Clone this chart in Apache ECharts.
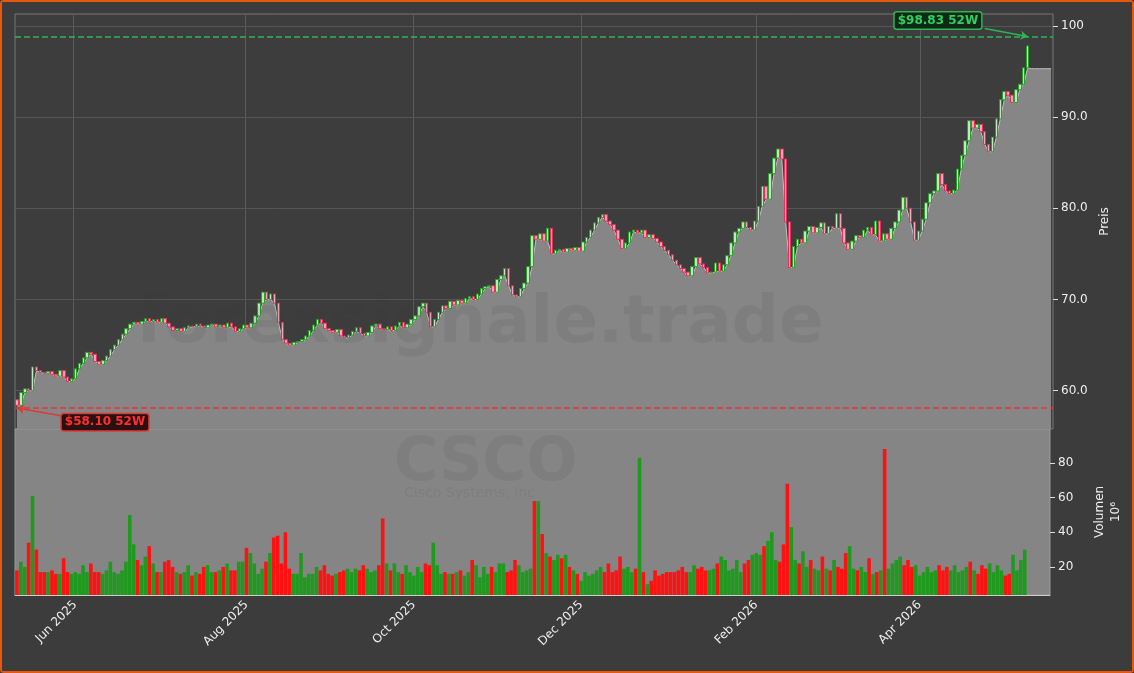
<!DOCTYPE html>
<html>
<head>
<meta charset="utf-8">
<script src="https://cdn.jsdelivr.net/npm/echarts@6/dist/echarts.min.js"></script>
<style>
html,body{margin:0;padding:0;background:#3c3c3c;}
#main{width:1130px;height:669px;border:2px solid #e8580c;border-radius:4px;}
</style>
</head>
<body>
<div id="main"></div>
<script>
// daily closes (trading days from 12 May 2025)
var closes = [
58.4,59.8,60.2,60.0,62.6,62.2,62.0,61.9,62.1,61.8,
61.6,62.2,61.5,61.0,61.3,62.4,63.0,63.6,64.2,64.0,
63.2,62.9,63.3,63.8,64.5,65.0,65.6,66.2,66.8,67.3,
67.5,67.3,67.6,67.9,67.6,67.8,67.5,67.9,67.4,67.0,
66.6,66.8,66.5,66.9,67.1,67.0,67.3,67.1,66.9,67.2,
67.3,67.0,67.2,66.9,67.4,67.0,66.5,66.8,67.2,66.9,
67.4,68.2,69.6,70.8,70.0,70.6,69.6,67.5,65.6,65.2,
65.0,65.3,65.4,65.6,66.0,66.6,67.2,67.8,67.4,66.8,
66.6,66.4,66.7,66.0,65.8,66.1,66.5,66.9,66.3,66.0,
66.4,67.1,67.3,66.8,66.7,67.0,66.6,67.1,67.5,66.9,
67.3,67.8,68.2,69.2,69.6,68.6,67.0,67.8,68.6,69.3,
69.0,69.8,69.4,69.9,69.6,70.1,70.3,70.0,70.6,71.2,
71.4,71.5,70.8,72.2,72.6,73.4,71.5,70.5,70.3,71.2,
71.8,73.6,77.0,76.6,77.2,76.4,77.8,75.0,75.4,75.5,
75.2,75.6,75.4,75.7,75.3,76.3,76.8,77.6,78.4,79.0,
79.3,78.6,78.2,77.6,76.6,75.6,76.2,77.4,77.6,77.3,
77.6,76.8,77.1,76.7,76.3,75.8,75.4,74.9,74.3,73.8,
73.4,73.0,72.6,73.6,74.6,73.9,73.5,72.9,73.0,74.0,
73.1,73.8,74.8,76.2,77.4,77.8,78.5,77.9,77.6,78.6,
80.2,82.4,81.0,83.8,85.5,86.5,85.4,78.5,73.5,75.8,
76.6,76.2,77.5,78.0,77.3,77.9,78.4,77.2,78.0,77.8,
79.4,77.8,76.2,75.5,76.4,77.0,76.8,77.6,77.9,77.1,
78.6,76.4,77.2,76.6,77.8,78.5,79.8,81.2,80.0,78.5,
76.5,77.5,78.8,80.6,81.6,81.9,83.8,82.6,81.9,81.6,
82.0,84.3,85.8,87.4,89.6,88.8,89.2,88.4,87.0,86.2,
87.8,89.8,91.9,92.8,92.4,91.6,93.0,93.6,95.4,97.8
];
var firstOpen = 59.0;
// volume in millions
var volumes = [
18,23,20,34,61,30,17,17,17,18,
16,16,25,17,16,17,16,21,17,22,
17,17,16,18,23,17,16,18,23,50,
33,24,21,26,32,22,17,17,23,24,
20,17,16,17,21,15,17,16,20,21,
17,17,18,20,22,18,18,23,23,31,
28,22,16,19,23,28,37,38,22,40,
19,16,16,28,14,16,16,20,18,21,
16,15,16,17,18,19,17,19,18,21,
19,17,18,21,48,22,18,22,17,16,
21,17,15,20,17,22,21,34,21,16,
17,16,16,17,18,15,17,24,21,14,
20,16,20,17,22,22,17,18,24,21,
17,18,19,58,58,39,28,26,24,27,
25,27,20,18,16,12,17,15,16,18,
20,17,22,17,18,26,19,20,17,19,
83,17,10,12,18,15,16,17,17,17,
18,20,17,17,21,19,20,18,18,19,
22,26,24,18,19,24,17,22,24,27,
28,27,32,35,40,24,23,33,68,43,
24,22,29,20,24,19,18,26,19,18,
24,20,19,28,32,19,18,20,17,25,
16,17,18,88,19,22,24,26,21,24,
20,21,15,17,20,17,18,21,18,20,
18,21,17,18,20,23,18,16,21,19,
22,17,21,18,15,16,27,18,24,30
];
var low52 = 58.10, high52 = 98.83;
var areaTail = 95.3;   // flat shaded level past the last candle
var padDays = 6;
var priceTicks = [60, 70, 80, 90, 100];
var volTicks = [20, 40, 60, 80];

var MON = ['Jan','Feb','Mar','Apr','May','Jun','Jul','Aug','Sep','Oct','Nov','Dec'];
var dates = [];
var d = new Date(Date.UTC(2025, 4, 12));
while (dates.length < closes.length + padDays) {
    var wd = d.getUTCDay();
    if (wd != 0 && wd != 6) dates.push(new Date(d.getTime()));
    d.setUTCDate(d.getUTCDate() + 1);
}
var cats = dates.map(function (x) { return x.toISOString().slice(0, 10); });

function isMonthTick(i) {
    if (i == 0) return false;
    var m = dates[i].getUTCMonth();
    return m % 2 == 1 && m != dates[i - 1].getUTCMonth();
}

var candles = [], vols = [], area = [];
for (var i = 0; i < closes.length; i++) {
    var o = i == 0 ? firstOpen : closes[i - 1], c = closes[i];
    candles.push([o, c, Math.min(o, c), Math.max(o, c)]);
    vols.push({value: volumes[i], itemStyle: {color: c >= o ? '#1f9a1f' : '#ff1111'}});
    area.push(Math.min(o, c));
}
for (var k = 0; k < padDays; k++) area.push(areaTail);

var myChart = echarts.init(document.getElementById('main'));
var wmFill = 'rgba(50,50,50,0.09)';
var option = {
    backgroundColor: '#3c3c3c',
    animation: false,
    textStyle: {fontFamily: 'DejaVu Sans'},
    grid: [
        {left: 13, right: 79, top: 12, height: 415, show: true, backgroundColor: '#3d3d3d', borderColor: '#777'},
        {left: 13, right: 79, top: 427, height: 166, show: true, backgroundColor: '#858585', borderColor: '#9a9a9a'}
    ],
    xAxis: [
        {type: 'category', data: cats, gridIndex: 0, boundaryGap: true,
         axisLine: {show: false}, axisTick: {show: false}, axisLabel: {show: false},
         splitLine: {show: true, interval: isMonthTick, lineStyle: {color: '#5a5a5a'}}},
        {type: 'category', data: cats, gridIndex: 1, boundaryGap: true,
         axisLine: {lineStyle: {color: '#ccc'}},
         axisTick: {interval: isMonthTick, lineStyle: {color: '#ddd'}, length: 5},
         axisLabel: {interval: isMonthTick, rotate: 45, color: '#eee', fontSize: 12, margin: 8,
            formatter: function (v) { var t = new Date(v); return MON[t.getUTCMonth()] + ' ' + t.getUTCFullYear(); }},
         splitLine: {show: false}}
    ],
    yAxis: [
        {type: 'value', gridIndex: 0, position: 'right', min: 55.8, max: 101.3,
         name: 'Preis', nameLocation: 'middle', nameGap: 45, nameRotate: 90,
         nameTextStyle: {color: '#eee', fontSize: 12},
         axisLine: {show: false},
         axisTick: {show: true, customValues: priceTicks, length: 5, lineStyle: {color: '#ddd'}},
         axisLabel: {color: '#eee', fontSize: 12, margin: 8, customValues: priceTicks,
            formatter: function (v) { return v >= 100 ? String(v) : v.toFixed(1); }},
         splitLine: {show: false}},
        {type: 'value', gridIndex: 1, position: 'right', min: 3.8, max: 99.6,
         name: 'Volumen\n10⁶', nameLocation: 'middle', nameGap: 42, nameRotate: 90,
         nameTextStyle: {color: '#eee', fontSize: 12, lineHeight: 16},
         axisLine: {show: false},
         axisTick: {show: true, customValues: volTicks, length: 5, lineStyle: {color: '#ddd'}},
         axisLabel: {color: '#eee', fontSize: 12, margin: 8, customValues: volTicks},
         splitLine: {show: false}}
    ],
    graphic: [
        {type: 'text', left: 134, top: 290, silent: true, z: 100,
         style: {text: 'forexsignale.trade', fill: wmFill, font: 'bold 66px "DejaVu Sans"'}},
        {type: 'text', left: 392, top: 432, silent: true, z: 100,
         style: {text: 'CSCO', fill: wmFill, font: 'bold 60px "DejaVu Sans"'}},
        {type: 'text', left: 402, top: 484, silent: true, z: 100,
         style: {text: 'Cisco Systems, Inc', fill: wmFill, font: '14px "DejaVu Sans"'}}
    ],
    series: [
        {type: 'line', xAxisIndex: 0, yAxisIndex: 0, data: area, symbol: 'none', z: 2,
         lineStyle: {color: '#c0c0c0', width: 1}, areaStyle: {color: '#868686', opacity: 1, origin: 'start'}},
        {type: 'line', xAxisIndex: 0, yAxisIndex: 0, data: [], z: 0,
         markLine: {silent: true, symbol: 'none', label: {show: false}, z: 0,
            lineStyle: {color: '#555', type: 'solid', width: 1},
            data: priceTicks.map(function (v) { return {yAxis: v}; })}},
        {type: 'candlestick', xAxisIndex: 0, yAxisIndex: 0, data: candles, barWidth: 3, z: 3,
         itemStyle: {color: '#b9ecb9', color0: '#f7a5b8', borderColor: '#2aa02a', borderColor0: '#e8305a', borderWidth: 1},
         markLine: {silent: true, symbol: 'none', label: {show: false},
            data: [
                {yAxis: high52, lineStyle: {color: '#2fb456', type: 'dashed', width: 1.5}},
                {yAxis: low52, lineStyle: {color: '#e03838', type: 'dashed', width: 1.5}},
                [{coord: [248, 99.7], symbol: 'none'}, {coord: [closes.length - 1, high52], symbol: 'arrow', symbolSize: 7,
                    lineStyle: {color: '#2fb456', type: 'solid', width: 1.5}}],
                [{coord: [12, 57.2], symbol: 'none'}, {coord: [0, low52], symbol: 'arrow', symbolSize: 7,
                    lineStyle: {color: '#e03838', type: 'solid', width: 1.5}}]
            ]}},
        {type: 'bar', xAxisIndex: 1, yAxisIndex: 1, data: vols, barWidth: 3.6, z: 2}
    ]
};
myChart.setOption(option);

var pHigh = myChart.convertToPixel({gridIndex: 0}, [248, 99.7]);
var pLow = myChart.convertToPixel({gridIndex: 0}, [12, 57.2]);
myChart.setOption({graphic: option.graphic.concat([
    {type: 'text', x: pHigh[0] - 90, y: pHigh[1] - 16, z: 110,
     style: {text: '$' + high52.toFixed(2) + ' 52W', fill: '#2fd060', font: 'bold 12px "DejaVu Sans"',
        backgroundColor: '#0e2a16', borderColor: '#2fb456', borderWidth: 1.5, borderRadius: 2, padding: [2, 3]}},
    {type: 'text', x: pLow[0] - 2, y: pLow[1] - 2, z: 110,
     style: {text: '$' + low52.toFixed(2) + ' 52W', fill: '#ff3030', font: 'bold 12px "DejaVu Sans"',
        backgroundColor: '#2a1010', borderColor: '#e03838', borderWidth: 1.5, borderRadius: 2, padding: [2, 3]}}
])});
</script>
</body>
</html>
